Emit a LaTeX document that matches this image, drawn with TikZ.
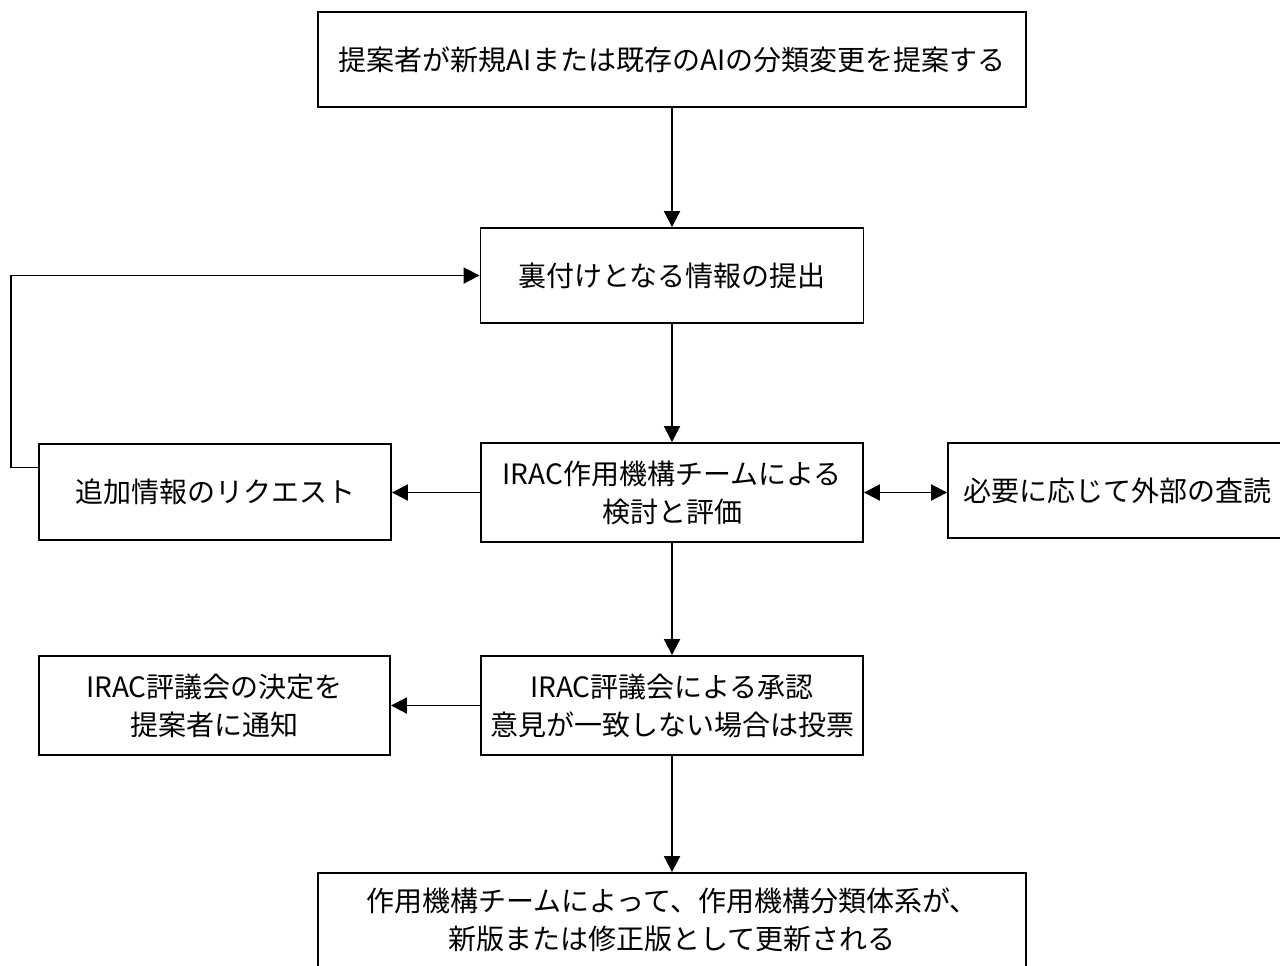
\documentclass[tikz,border=0pt]{standalone}
\usepackage{fontspec}
\setmainfont{Noto Sans CJK JP}
\usetikzlibrary{arrows.meta,calc}
\begin{document}
\begin{tikzpicture}[x=0.75pt,y=-0.75pt,
  every node/.style={font=\fontsize{21pt}{28.5pt}\selectfont},
  box/.style={draw=black,line width=1.4pt,align=center,inner sep=0pt,fill=white},
  conn/.style={draw=black,line width=1.4pt,-{Triangle[length=12pt,width=12pt]}},
  conn2/.style={draw=black,line width=1.4pt,{Triangle[length=12pt,width=12pt]}-{Triangle[length=12pt,width=12pt]}}]
\useasboundingbox (0,0) rectangle (1280,965);
\clip (0,0) rectangle (1280,965);
\fill[white] (0,0) rectangle (1280,965);

\node[box,minimum width=708*0.75pt,minimum height=95*0.75pt] (b1) at (672,59.5)
  {提案者が新規AIまたは既存のAIの分類変更を提案する};
\node[box,minimum width=383*0.75pt,minimum height=95*0.75pt] (b2) at (672,275.5)
  {裏付けとなる情報の提出};
\node[box,minimum width=382*0.75pt,minimum height=99*0.75pt] (b3) at (672,492.5)
  {IRAC作用機構チームによる\\検討と評価};
\node[box,minimum width=352*0.75pt,minimum height=96*0.75pt] (l1) at (215,492)
  {追加情報のリクエスト};
\node[box,minimum width=338*0.75pt,minimum height=95*0.75pt] (r1) at (1117,490.5)
  {必要に応じて外部の査読};
\node[box,minimum width=382*0.75pt,minimum height=99*0.75pt] (b4) at (672,705.5)
  {IRAC評議会による承認\\意見が一致しない場合は投票};
\node[box,minimum width=351*0.75pt,minimum height=99*0.75pt] (l2) at (214.5,705.5)
  {IRAC評議会の決定を\\提案者に通知};
\node[box,minimum width=708*0.75pt,minimum height=94*0.75pt] (b5) at (672,920)
  {作用機構チームによって、作用機構分類体系が、\\新版または修正版として更新される};

\coordinate (loopx) at (11,0);
\coordinate (ls) at ($(l1.north west)!0.25!(l1.south west)$);

\draw[conn] (b1.south) -- (b2.north);
\draw[conn] (b2.south) -- (b3.north);
\draw[conn] (b3.west) -- (b3.west -| l1.east);
\draw[conn2] (b3.east) -- (b3.east -| r1.west);
\draw[conn] (ls) -| (loopx |- b2.west) -- (b2.west);
\draw[conn] (b3.south) -- (b4.north);
\draw[conn] (b4.west) -- (b4.west -| l2.east);
\draw[conn] (b4.south) -- (b5.north);
\end{tikzpicture}
\end{document}
